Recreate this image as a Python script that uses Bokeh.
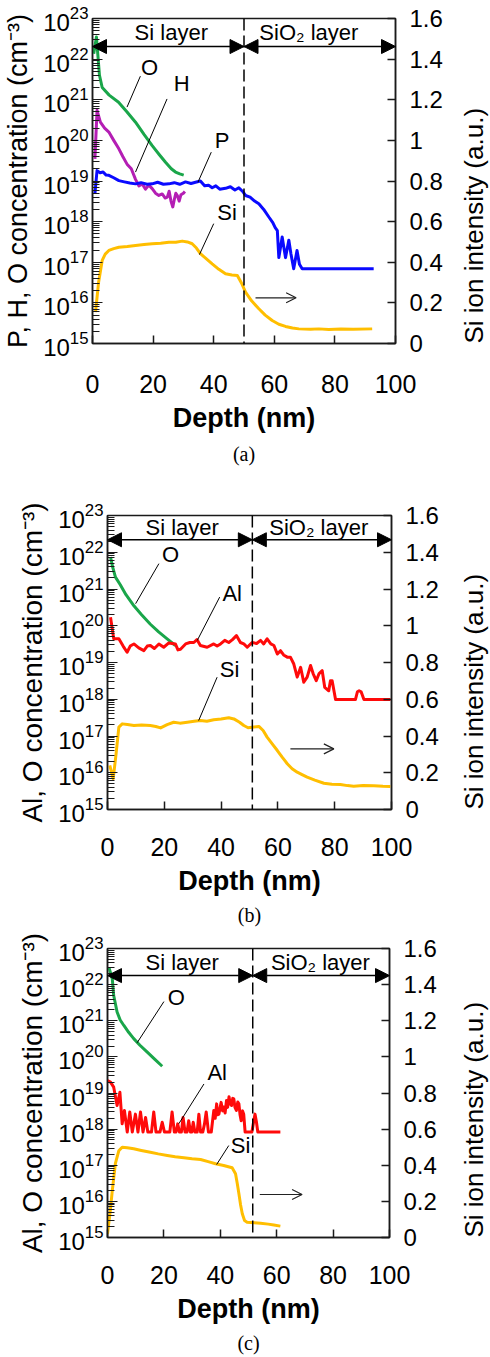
import math
from bokeh.plotting import figure
from bokeh.models import (Range1d, LinearAxis, LinearScale, FixedTicker, LogTickFormatter,
                          CustomJSTickFormatter, Span, Arrow, NormalHead, OpenHead, Title)
from bokeh.core.properties import value
from bokeh.embed import file_html
from bokeh.resources import INLINE

FONT = "Liberation Sans"

# ---------------- axes ----------------
depth_ticks = [0, 20, 40, 60, 80, 100]
conc_ticks = [1e15, 1e16, 1e17, 1e18, 1e19, 1e20, 1e21, 1e22, 1e23]
si_ticks = [0, 0.2, 0.4, 0.6, 0.8, 1.0, 1.2, 1.4, 1.6]

# ---------------- panel (a) ----------------
a_O_depth = [0.4, 1.3, 2.3, 3.2, 5.5, 8.6, 11.4, 14.2, 17.0, 19.7, 22.0, 24.1, 26.0, 27.4, 28.8, 30.1]
a_O_conc = [1.35e22, 3.5e22, 4.0e21, 2.0e21, 1.3e21, 8.7e20, 5.0e20, 2.8e20, 1.4e20, 7.4e19,
            4.5e19, 2.9e19, 2.0e19, 1.66e19, 1.5e19, 1.4e19]

a_H_depth = [0.8, 1.5, 2.6, 4.0, 5.4, 7.0, 8.7, 10.0, 11.4, 12.8, 14.2, 15.3, 16.4, 17.5, 18.6, 19.7,
             20.8, 21.9, 23.0, 24.0, 24.7, 25.3, 25.9, 26.5, 27.0, 27.5, 28.0, 28.6, 29.2, 30.0, 30.5]
a_H_conc = [3.5e19, 5.5e20, 2.8e20, 2.0e20, 1.6e20, 1.0e20, 6.2e19, 4.0e19, 2.6e19, 2.0e19, 1.1e19,
            7.6e18, 8.5e18, 6.3e18, 7.9e18, 6.5e18, 5.0e18, 4.4e18, 4.8e18, 3.8e18, 4.0e18, 5.6e18,
            3.2e18, 2.3e18, 3.5e18, 5.0e18, 4.4e18, 3.2e18, 4.6e18, 5.0e18, 5.5e18]

a_P_depth = [0.8, 1.3, 1.5, 2.5, 3.5, 4.5, 5.4, 7.0, 8.7, 10.5, 12.3, 14.2, 16.0, 18.0, 19.7, 21.5,
             23.4, 25.2, 27.0, 28.8, 30.7, 32.5, 34.0, 35.6, 37.0, 38.3, 39.5, 40.7, 42.0, 43.9,
             45.5, 47.0, 48.3, 49.5, 50.5, 52.0, 53.5, 54.9, 56.5, 58.2, 59.5, 60.3, 61.0, 61.5,
             62.6, 63.7, 64.8, 65.5, 66.4, 67.5, 68.3, 69.2, 92.8]
a_P_conc = [4.8e18, 1.26e19, 1.8e19, 1.6e19, 1.66e19, 1.4e19, 1.38e19, 1.2e19, 1.02e19, 9.5e18,
            8.9e18, 8.5e18, 9.1e18, 8.3e18, 8.5e18, 9.3e18, 8.3e18, 8.5e18, 9.1e18, 8.3e18, 9.5e18,
            8.7e18, 9.3e18, 1.0e19, 7.6e18, 7.9e18, 6.8e18, 7.6e18, 6.3e18, 6.6e18, 7.2e18, 6.0e18,
            6.8e18, 5.6e18, 4.4e18, 4.0e18, 3.2e18, 2.75e18, 2.0e18, 1.3e18, 9.5e17, 7.1e17, 6.0e17,
            1.3e17, 4.2e17, 1.3e17, 3.5e17, 1.6e17, 6.9e16, 1.95e17, 8.9e16, 6.9e16, 6.9e16]

a_Si_depth = [1.0, 2.0, 3.2, 4.2, 5.4, 7.0, 8.7, 11.5, 14.2, 17.0, 19.7, 22.5, 25.2, 27.5, 29.6,
              31.3, 32.9, 34.3, 35.6, 37.5, 39.5, 41.7, 43.9, 46.0, 47.8, 49.3, 50.5, 52.5, 54.9,
              57.0, 59.3, 61.5, 63.7, 66.0, 68.1, 72.0, 74.7, 78.0, 82.0, 86.0, 92.3]
a_Si_int = [0.154, 0.30, 0.409, 0.44, 0.458, 0.467, 0.474, 0.478, 0.483, 0.487, 0.491, 0.494, 0.499,
            0.498, 0.504, 0.50, 0.491, 0.47, 0.442, 0.418, 0.392, 0.365, 0.343, 0.337, 0.335, 0.294,
            0.253, 0.21, 0.171, 0.14, 0.113, 0.095, 0.084, 0.076, 0.072, 0.07, 0.072, 0.069, 0.071,
            0.07, 0.072]

# ---------------- panel (b) ----------------
b_O_depth = [1.06, 1.8, 2.8, 4.5, 6.5, 9.3, 12.0, 15.1, 18.0, 21.0, 23.9]
b_O_conc = [7.4e21, 4.0e21, 2.1e21, 1.3e21, 7.0e20, 3.5e20, 2.0e20, 1.1e20, 6.8e19, 4.4e19, 2.9e19]

b_Al_depth = [1.06, 2.2, 4.0, 5.5, 6.9, 8.0, 9.3, 11.0, 12.8, 14.0, 15.1, 16.5, 18.1, 19.8, 21.6,
              23.9, 24.8, 25.7, 27.5, 29.0, 30.4, 31.5, 32.7, 35.1, 37.4, 38.6, 39.8, 41.3, 42.7,
              44.0, 45.4, 46.8, 48.0, 49.2, 50.9, 52.5, 53.9, 55.0, 56.2, 57.5, 58.6, 59.8, 60.9,
              62.0, 63.3, 64.4, 65.6, 66.8, 68.0, 69.1, 70.3, 71.5, 72.4, 73.5, 74.5, 75.6, 76.5,
              77.9, 78.5, 79.1, 80.3, 87.3, 88.0, 88.6, 89.3, 90.3, 99.6]
b_Al_conc = [1.7e20, 4.4e19, 4.4e19, 2.8e19, 1.9e19, 2.8e19, 3.2e19, 2.5e19, 2.1e19, 2.8e19, 2.9e19,
             2.4e19, 3.2e19, 2.6e19, 3.4e19, 3.2e19, 2.2e19, 2.3e19, 3.2e19, 3.5e19, 3.5e19, 4.2e19,
             2.9e19, 2.6e19, 3.2e19, 2.8e19, 3.2e19, 4.0e19, 3.5e19, 4.2e19, 5.4e19, 3.5e19, 3.2e19,
             2.6e19, 3.5e19, 3.3e19, 4.0e19, 3.2e19, 4.4e19, 3.2e19, 2.9e19, 1.7e19, 2.1e19, 1.6e19,
             1.4e19, 1.4e19, 9.1e18, 4.0e18, 7.4e18, 2.9e18, 4.0e18, 8.3e18, 5.0e18, 3.2e18, 5.0e18,
             6.0e18, 2.1e18, 1.7e18, 3.2e18, 3.2e18, 9.8e17, 9.8e17, 1.6e18, 1.7e18, 1.6e18, 9.8e17,
             9.8e17]

b_Si_depth = [0.8, 2.0, 3.0, 4.0, 5.2, 7.0, 9.3, 12.0, 15.1, 17.0, 18.7, 21.0, 23.3, 25.5, 28.1,
              30.5, 32.7, 35.0, 37.4, 40.0, 42.7, 44.5, 46.5, 48.0, 49.5, 50.9, 53.3, 54.8, 56.2,
              58.0, 59.8, 61.5, 63.3, 65.0, 66.8, 68.5, 70.3, 73.0, 76.2, 79.0, 82.0, 84.5, 86.7,
              90.0, 93.8, 97.0, 99.6]
b_Si_int = [0.24, 0.167, 0.30, 0.448, 0.466, 0.462, 0.457, 0.46, 0.457, 0.452, 0.444, 0.462, 0.475,
            0.47, 0.475, 0.48, 0.484, 0.48, 0.488, 0.492, 0.499, 0.493, 0.475, 0.457, 0.445, 0.448,
            0.452, 0.43, 0.394, 0.357, 0.321, 0.285, 0.249, 0.222, 0.203, 0.19, 0.176, 0.16, 0.143,
            0.138, 0.136, 0.13, 0.127, 0.13, 0.129, 0.126, 0.125]

# ---------------- panel (c) ----------------
c_O_depth = [0.5, 1.7, 2.2, 3.4, 4.5, 5.8, 7.5, 9.3, 11.5, 14.1, 16.8, 19.4]
c_O_conc = [3.0e22, 1.45e22, 5.0e21, 1.74e21, 1.05e21, 7.4e20, 4.8e20, 3.2e20, 2.1e20, 1.35e20,
            8.5e19, 5.5e19]

c_Al_depth = [0.0, 1.06, 2.2, 3.4, 4.4, 5.2, 6.0, 7.0, 7.9, 8.8, 9.9, 10.8, 11.7, 12.6, 13.5, 14.3,
              15.6, 16.4, 17.2, 18.6, 19.4, 20.2, 22.1, 22.9, 23.7, 24.3, 24.9, 25.5, 26.2, 26.8,
              27.5, 28.2, 28.8, 29.4, 29.9, 30.4, 31.0, 31.8, 32.4, 33.0, 33.8, 34.4, 35.0, 35.8,
              36.8, 37.7, 38.2, 38.7, 39.1, 39.5, 40.3, 40.8, 41.2, 41.7, 42.2, 42.6, 43.1, 43.5,
              44.0, 44.4, 44.8, 45.2, 45.7, 46.2, 46.6, 47.0, 47.4, 47.9, 48.3, 48.8, 51.2, 51.7,
              52.3, 52.8, 53.3, 61.3]
c_Al_conc = [2.2e19, 2.0e19, 1.45e19, 4.5e18, 1.05e19, 1.4e18, 3.3e18, 8.3e17, 3.0e18, 8.3e17,
             2.6e18, 8.3e17, 3.0e18, 8.3e17, 2.1e18, 8.3e17, 8.3e17, 3.0e18, 8.3e17, 8.3e17, 1.55e18,
             8.3e17, 8.3e17, 3.0e18, 8.3e17, 8.3e17, 1.4e18, 8.3e17, 8.3e17, 2.1e18, 8.3e17, 8.3e17,
             1.7e18, 8.3e17, 8.3e17, 1.55e18, 8.3e17, 8.3e17, 2.6e18, 8.3e17, 8.3e17, 1.4e18, 3.0e18,
             8.3e17, 8.3e17, 3.3e18, 2.0e18, 5.0e18, 2.5e18, 2.6e18, 5.5e18, 3.2e18, 4.1e18, 2.8e18,
             6.2e18, 4.0e18, 7.9e18, 5.0e18, 4.5e18, 7.1e18, 6.9e18, 4.0e18, 3.3e18, 5.6e18, 5.0e18,
             2.5e18, 1.7e18, 3.2e18, 2.6e18, 8.3e17, 8.3e17, 1.4e18, 2.6e18, 1.6e18, 8.3e17, 8.3e17]

c_Si_depth = [0.0, 1.0, 1.7, 2.8, 4.0, 5.2, 7.0, 9.3, 12.0, 15.2, 18.0, 21.2, 24.0, 27.1, 30.0,
              33.0, 35.7, 38.3, 41.2, 44.2, 45.4, 46.0, 46.6, 47.2, 47.8, 48.6, 49.5, 52.0, 54.3,
              57.0, 59.0, 61.3]
c_Si_int = [0.02, 0.15, 0.26, 0.41, 0.48, 0.50, 0.497, 0.491, 0.482, 0.472, 0.463, 0.454, 0.447,
            0.441, 0.436, 0.432, 0.42, 0.408, 0.399, 0.386, 0.353, 0.30, 0.242, 0.18, 0.131, 0.094,
            0.085, 0.082, 0.079, 0.074, 0.069, 0.063]

# ---------------- colours ----------------
C_O = "#1aa64a"
C_H = "#b41eb4"
C_P = "#0a0aff"
C_SI = "#ffbe00"
C_AL = "#ff0a0a"


def make_panel(cfg):
    p = figure(frame_width=cfg["fw"], frame_height=cfg["fh"],
               x_range=Range1d(0, 100), y_range=Range1d(1e15, 1e23), y_axis_type="log",
               output_backend="svg", toolbar_location=None,
               min_border_left=cfg["bl"], min_border_right=cfg["br"],
               min_border_top=cfg["bt"], min_border_bottom=cfg["bb"])
    p.background_fill_color = "white"
    p.border_fill_color = "white"
    p.outline_line_color = "#1a1a1a"
    p.outline_line_width = 1.5
    p.xgrid.visible = False
    p.ygrid.visible = False
    p.extra_y_ranges = {"si": Range1d(0, 1.6)}
    p.extra_y_scales = {"si": LinearScale()}

    # x axis
    xa = p.xaxis[0]
    xa.ticker = FixedTicker(ticks=depth_ticks)
    xa.major_tick_in = 8
    xa.major_tick_out = 0
    xa.minor_tick_line_color = None
    xa.major_label_standoff = cfg["xstand"]
    xa.major_label_text_font = FONT
    xa.major_label_text_font_size = "25px"
    xa.major_label_text_color = "black"
    xa.axis_label = "Depth (nm)"
    xa.axis_label_text_font = FONT
    xa.axis_label_text_font_style = "bold"
    xa.axis_label_text_font_size = "27px"
    xa.axis_label_text_color = "black"
    xa.axis_label_standoff = 7
    xa.axis_line_color = "#1a1a1a"
    xa.axis_line_width = 1.5
    xa.major_tick_line_color = "#1a1a1a"
    xa.major_tick_line_width = 1.5

    # left log axis
    ya = p.yaxis[0]
    minors = [m * 10 ** k for k in range(15, 23) for m in range(2, 10)]
    ya.ticker = FixedTicker(ticks=conc_ticks, minor_ticks=minors)
    ya.formatter = LogTickFormatter()
    ya.major_tick_in = 10
    ya.major_tick_out = 0
    ya.minor_tick_in = 7
    ya.minor_tick_out = 0
    ya.major_label_standoff = 4
    ya.major_label_text_font = FONT
    ya.major_label_text_font_size = "24px"
    ya.major_label_text_color = "black"
    ya.axis_label = cfg["ylabel"]
    ya.axis_label_text_font = FONT
    ya.axis_label_text_font_style = "normal"
    ya.axis_label_text_font_size = cfg["yfs"]
    ya.axis_label_text_color = "black"
    ya.axis_label_standoff = 7
    ya.axis_line_color = "#1a1a1a"
    ya.axis_line_width = 1.5
    ya.major_tick_line_color = "#1a1a1a"
    ya.minor_tick_line_color = "#1a1a1a"

    # right linear axis (Si intensity)
    ra = LinearAxis(y_range_name="si", ticker=FixedTicker(ticks=si_ticks),
                    formatter=CustomJSTickFormatter(code="return String(Math.round(tick*10)/10);"))
    ra.major_tick_in = 8
    ra.major_tick_out = 0
    ra.minor_tick_line_color = None
    ra.major_label_standoff = 14
    ra.major_label_text_font = FONT
    ra.major_label_text_font_size = "24px"
    ra.major_label_text_color = "black"
    ra.axis_label = "Si ion intensity (a.u.)"
    ra.axis_label_text_font = FONT
    ra.axis_label_text_font_style = "normal"
    ra.axis_label_text_font_size = "26px"
    ra.axis_label_text_color = "black"
    ra.axis_label_standoff = cfg["rstand"]
    ra.axis_label_orientation = math.pi / 2
    try:
        ra.axis_label_align = "start"
    except Exception:
        pass
    ra.axis_line_color = "#1a1a1a"
    ra.axis_line_width = 1.5
    ra.major_tick_line_color = "#1a1a1a"
    ra.major_tick_line_width = 1.5
    p.add_layout(ra, "right")

    # caption
    cap = Title(text=cfg["caption"], align="center", text_font="Liberation Serif",
                text_font_size="20px", text_font_style="normal", text_color="black",
                standoff=cfg["capstand"])
    p.add_layout(cap, "below")

    # layer boundary
    p.add_layout(Span(location=cfg["bound"], dimension="height", line_color="black",
                      line_width=1.5, line_dash="12 5"))

    # layer arrows
    ay = cfg["arrow_y"]
    for xs, xe in [(0, cfg["bound"]), (cfg["bound"], 100)]:
        p.add_layout(Arrow(x_start=xs, y_start=ay, x_end=xe, y_end=ay, line_width=1.5,
                           line_color="black",
                           start=NormalHead(size=14, fill_color="black", line_color="black"),
                           end=NormalHead(size=14, fill_color="black", line_color="black")))
    p.text(x=[cfg["layer_x"][0], cfg["layer_x"][1]], y=[cfg["layer_y"], cfg["layer_y"]],
           text=["Si layer", "SiO\u2082 layer"], text_font=value(FONT), text_font_size="22px",
           text_align="center", text_baseline="middle", text_color="black")

    # series
    for d, c, col in cfg["conc_series"]:
        p.line(d, c, line_color=col, line_width=3, line_join="round")
    d, v = cfg["si_series"]
    p.line(d, v, line_color=C_SI, line_width=3, line_join="round", y_range_name="si")

    # labels with leader lines (concentration axis)
    for txt, lx, ly, x0, y0, x1, y1 in cfg["labels"]:
        p.text(x=[lx], y=[ly], text=[txt], text_font=value(FONT), text_font_size="22px",
               text_align="center", text_baseline="middle", text_color="black")
        p.segment(x0=[x0], y0=[y0], x1=[x1], y1=[y1], line_color="black", line_width=1)
    # Si label (intensity axis)
    txt, lx, ly, x0, y0, x1, y1 = cfg["si_label"]
    p.text(x=[lx], y=[ly], text=[txt], text_font=value(FONT), text_font_size="22px",
           text_align="center", text_baseline="middle", text_color="black", y_range_name="si")
    p.segment(x0=[x0], y0=[y0], x1=[x1], y1=[y1], line_color="black", line_width=1,
              y_range_name="si")
    xs, xe, yv = cfg["si_arrow"]
    p.add_layout(Arrow(x_start=xs, y_start=yv, x_end=xe, y_end=yv, y_range_name="si",
                       line_width=1.2, line_color="#222222",
                       end=OpenHead(size=10, line_width=1.2, line_color="#222222")))
    return p


cfg_a = dict(fw=303, fh=325, bl=92, br=95, bt=18, bb=127, xstand=31, capstand=10, rstand=28,
             ylabel="P, H, O concentration (cm\u207b\u00b3)", yfs="27px",
             caption="(a)", bound=50, arrow_y=10 ** 22.31, layer_x=(26, 71.4), layer_y=10 ** 22.66,
             conc_series=[(a_O_depth, a_O_conc, C_O), (a_H_depth, a_H_conc, C_H),
                          (a_P_depth, a_P_conc, C_P)],
             si_series=(a_Si_depth, a_Si_int),
             labels=[("O", 18.8, 10 ** 21.8, 15.8, 10 ** 21.58, 11.4, 10 ** 20.82),
                     ("H", 29.4, 10 ** 21.4, 24.6, 10 ** 21.02, 14.2, 10 ** 19.22),
                     ("P", 42.8, 10 ** 20.0, 39.2, 10 ** 19.71, 34.8, 10 ** 18.97)],
             si_label=("Si", 44.4, 0.646, 40.0, 0.59, 35.3, 0.438),
             si_arrow=(53.8, 67.2, 0.225))

cfg_b = dict(fw=284, fh=294, bl=107, br=99, bt=45, bb=116, xstand=28, capstand=7, rstand=32,
             ylabel="Al, O concentration (cm\u207b\u00b3)", yfs="28px",
             caption="(b)", bound=51, arrow_y=10 ** 22.34, layer_x=(26.3, 74.4), layer_y=10 ** 22.66,
             conc_series=[(b_O_depth, b_O_conc, C_O), (b_Al_depth, b_Al_conc, C_AL)],
             si_series=(b_Si_depth, b_Si_int),
             labels=[("O", 22.2, 10 ** 21.94, 18.1, 10 ** 21.69, 9.9, 10 ** 20.6),
                     ("Al", 43.9, 10 ** 20.87, 39.5, 10 ** 20.78, 31.6, 10 ** 19.6)],
             si_label=("Si", 43.0, 0.762, 38.6, 0.72, 32.1, 0.484),
             si_arrow=(64.4, 79.7, 0.33))

cfg_c = dict(fw=282, fh=289, bl=107, br=101, bt=19, bb=119, xstand=28, capstand=6, rstand=34,
             ylabel="Al, O concentration (cm\u207b\u00b3)", yfs="28px",
             caption="(c)", bound=51.5, arrow_y=10 ** 22.25, layer_x=(26.5, 75.5), layer_y=10 ** 22.62,
             conc_series=[(c_O_depth, c_O_conc, C_O), (c_Al_depth, c_Al_conc, C_AL)],
             si_series=(c_Si_depth, c_Si_int),
             labels=[("O", 24.4, 10 ** 21.65, 20.0, 10 ** 21.53, 10.5, 10 ** 20.39),
                     ("Al", 38.9, 10 ** 19.58, 34.2, 10 ** 19.25, 25.3, 10 ** 18.15)],
             si_label=("Si", 47.2, 0.509, 43.0, 0.509, 38.7, 0.404),
             si_arrow=(54.0, 69.0, 0.238))

pa = make_panel(cfg_a)
pb = make_panel(cfg_b)
pc = make_panel(cfg_c)

# three independent roots stacked on the page (no cross-panel frame alignment)
open("out.html", "w").write(file_html([pa, pb, pc], INLINE))
